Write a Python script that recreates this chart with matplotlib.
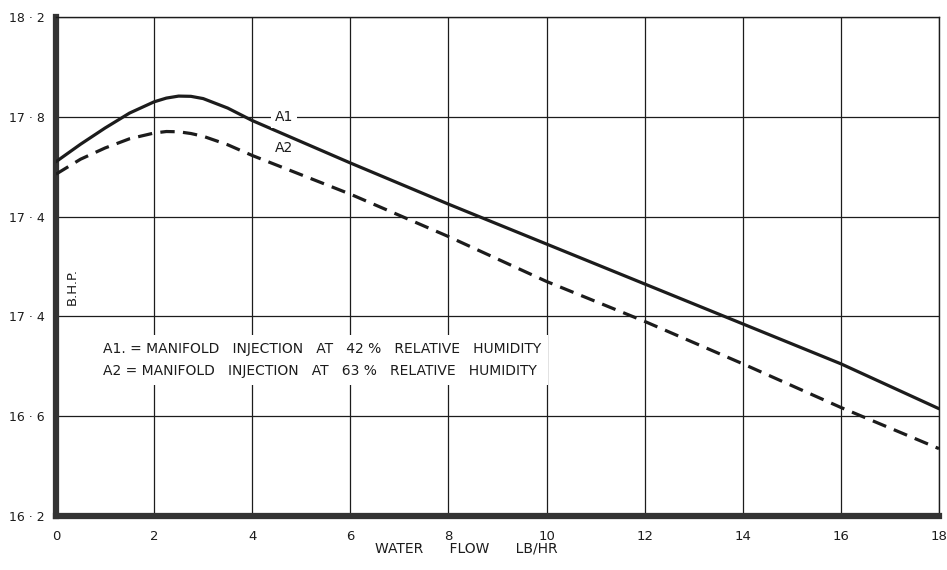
import matplotlib.pyplot as plt

# water flow (lb/hr) and brake horsepower readings
flow = [0, 0.5, 1, 1.5, 2, 2.25, 2.5, 2.75, 3, 3.5, 4, 6, 8, 10, 12, 14, 16, 18]
bhp_a1 = [17.62, 17.69, 17.755, 17.815, 17.86, 17.875, 17.883, 17.882, 17.873,
          17.835, 17.785, 17.615, 17.45, 17.29, 17.13, 16.97, 16.81, 16.63]
bhp_a2 = [17.57, 17.63, 17.675, 17.712, 17.735, 17.741, 17.74, 17.733, 17.722,
          17.688, 17.645, 17.49, 17.32, 17.14, 16.98, 16.81, 16.635, 16.47]

x_ticks = [0, 2, 4, 6, 8, 10, 12, 14, 16, 18]
y_ticks = [16.2, 16.6, 17.0, 17.4, 17.8, 18.2]
y_labels = ["16 · 2", "16 · 6", "17 · 4", "17 · 4", "17 · 8", "18 · 2"]

ink = "#1c1c1c"
plt.rcParams["font.family"] = ["DejaVu Sans"]

fig = plt.figure(figsize=(9.47, 5.70), dpi=100)
ax = fig.add_axes([56 / 947, 1 - 516 / 570, 883 / 947, 499 / 570])

ax.set_xlim(0, 18)
ax.set_ylim(16.2, 18.2)
ax.set_xticks(x_ticks)
ax.set_xticklabels([str(t) for t in x_ticks])
ax.set_yticks(y_ticks)
ax.set_yticklabels(y_labels)
ax.tick_params(axis="x", length=0, labelsize=9.5, colors=ink, pad=10)
ax.tick_params(axis="y", length=0, labelsize=9, colors=ink, pad=8)
ax.grid(True, color=ink, linewidth=0.9)

for side in ["top", "right"]:
    ax.spines[side].set_linewidth(1.0)
    ax.spines[side].set_color(ink)
for side in ["left", "bottom"]:
    ax.spines[side].set_linewidth(4.5)
    ax.spines[side].set_color("#333333")

ax.plot(flow, bhp_a1, color=ink, linewidth=2.3, solid_capstyle="round",
        solid_joinstyle="round", zorder=3)
ax.plot(flow, bhp_a2, color=ink, linewidth=2.3, dashes=(4.5, 2.6), zorder=3)

# curve tags sitting on the 17.8 grid line
ax.text(4.65, 17.8, "A1", fontsize=10, color=ink, ha="center", va="center",
        bbox=dict(facecolor="white", edgecolor="none", pad=3), zorder=4)
ax.text(4.65, 17.675, "A2", fontsize=10, color=ink, ha="center", va="center", zorder=4)

ax.text(0.33, 17.12, "B.H.P.", rotation=90, fontsize=9.5, color=ink,
        ha="center", va="center")

key = ("A1. = MANIFOLD   INJECTION   AT   42 %   RELATIVE   HUMIDITY\n"
       "A2 = MANIFOLD   INJECTION   AT   63 %   RELATIVE   HUMIDITY")
ax.text(0.95, 16.825, key, fontsize=10, color=ink, ha="left", va="center",
        linespacing=1.75,
        bbox=dict(facecolor="white", edgecolor="none", pad=5), zorder=4)

fig.text(466 / 947, 1 - 549 / 570, "WATER      FLOW      LB/HR", fontsize=10,
         color=ink, ha="center", va="center")

fig.savefig("out.png", dpi=100)
